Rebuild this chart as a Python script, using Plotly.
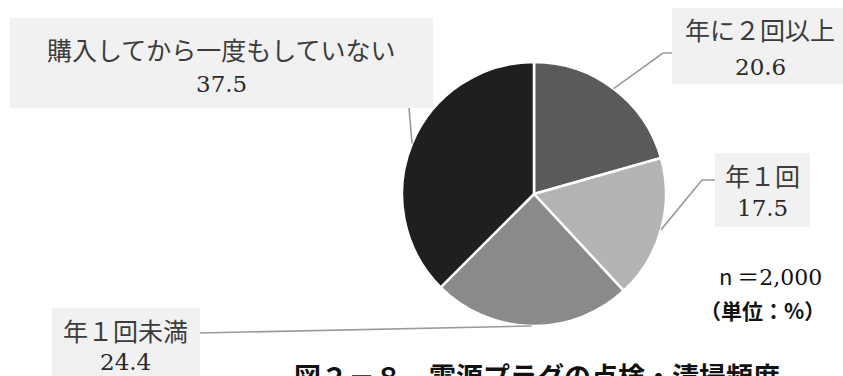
import numpy as np
import plotly.graph_objects as go

# Figure size (px)
W, H = 843, 376

# Data
labels = ["年に２回以上", "年１回", "年１回未満", "購入してから一度もしていない"]
values = [20.6, 17.5, 24.4, 37.5]
colors = ["#5a5a5a", "#b4b4b4", "#8a8a8a", "#1f1f1f"]

# Pie geometry in pixels (centre and radius)
CX, CY, R = 534, 194, 132

# Label boxes (x0, y0, x1, y1) in pixels, text centre, and leader elbow/end
boxes = [
    dict(box=(672, 8, 843, 84), tx=760, ty1=29, ty2=67, path=[(663, 53), (672, 53)]),
    dict(box=(715, 153, 810, 227), tx=762, ty1=175, ty2=208, path=[(702, 180), (715, 180)]),
    dict(box=(52, 308, 200, 400), tx=126, ty1=330, ty2=362, path=[(200, 333)]),
    dict(box=(10, 18, 433, 108), tx=221, ty1=49, ty2=84, path=[(409, 108)]),
]


def px(x):
    return x / W


def py(y):
    return 1 - y / H


fig = go.Figure(
    go.Pie(
        labels=labels,
        values=values,
        sort=False,
        direction="clockwise",
        rotation=0,
        textinfo="none",
        hoverinfo="label+value",
        marker=dict(colors=colors, line=dict(color="white", width=2.5)),
        domain=dict(x=[px(CX - R), px(CX + R)], y=[py(CY + R), py(CY - R)]),
        showlegend=False,
    )
)

shapes = []
annotations = []

# Mid-angle of each slice (clockwise from 12 o'clock) for leader anchors
cum = np.cumsum([0] + values)
total = cum[-1]
for i, b in enumerate(boxes):
    mid = (cum[i] + cum[i + 1]) / 2 / total * 2 * np.pi
    ex, ey = CX + R * np.sin(mid), CY - R * np.cos(mid)

    x0, y0, x1, y1 = b["box"]
    shapes.append(dict(type="rect", xref="paper", yref="paper",
                       x0=px(x0), x1=px(x1), y0=py(y1), y1=py(y0),
                       fillcolor="#f1f1f1", line=dict(width=0), layer="below"))

    pts = [(ex, ey)] + b["path"]
    d = "M " + " L ".join(f"{px(a):.5f},{py(c):.5f}" for a, c in pts)
    shapes.append(dict(type="path", xref="paper", yref="paper", path=d,
                       line=dict(color="#9a9a9a", width=1.6)))

    annotations.append(dict(x=px(b["tx"]), y=py(b["ty1"]), xref="paper", yref="paper",
                            text=labels[i], showarrow=False, xanchor="center", yanchor="middle",
                            font=dict(family="Noto Sans CJK JP", size=25, color="#3c3c3c")))
    annotations.append(dict(x=px(b["tx"]), y=py(b["ty2"]), xref="paper", yref="paper",
                            text=f"{values[i]:.1f}", showarrow=False, xanchor="center", yanchor="middle",
                            font=dict(family="DejaVu Serif", size=23, color="#2a2a2a")))

# Sample size and unit
annotations.append(dict(x=px(824), y=py(275), xref="paper", yref="paper", xanchor="right", yanchor="middle",
                        showarrow=False,
                        text="n ＝<span style='font-family:DejaVu Serif'>2,000</span>",
                        font=dict(family="Noto Sans CJK JP", size=22, color="#111111")))
annotations.append(dict(x=px(827), y=py(310), xref="paper", yref="paper", xanchor="right", yanchor="middle",
                        showarrow=False, text="<b>（単位：%）</b>",
                        font=dict(family="Noto Sans CJK JP", size=21, color="#111111")))

# Figure caption
annotations.append(dict(x=px(292), y=py(354), xref="paper", yref="paper", xanchor="left", yanchor="top",
                        showarrow=False, text="<b>図２－８　電源プラグの点検・清掃頻度</b>",
                        font=dict(family="Noto Sans CJK JP", size=27, color="#111111")))

fig.update_layout(
    width=W, height=H,
    margin=dict(l=0, r=0, t=0, b=0),
    paper_bgcolor="white", plot_bgcolor="white",
    shapes=shapes, annotations=annotations,
)

fig.write_html("out.html")
